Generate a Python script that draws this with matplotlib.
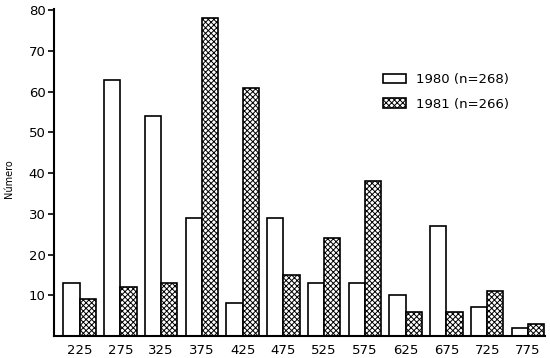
import numpy as np
import matplotlib
matplotlib.use('Agg')
import matplotlib.pyplot as plt

# size classes and counts per year
classes = ['225', '275', '325', '375', '425', '475', '525', '575', '625', '675', '725', '775']
counts_1980 = [13, 63, 54, 29, 8, 29, 13, 13, 10, 27, 7, 2]
counts_1981 = [9, 12, 13, 78, 61, 15, 24, 38, 6, 6, 11, 3]
y_ticks = [10, 20, 30, 40, 50, 60, 70, 80]

plt.rcParams['hatch.linewidth'] = 0.7

fig = plt.figure(figsize=(5.5, 3.58), dpi=100)
ax = fig.add_axes([0.098, 0.0615, 0.893, 0.913])

x = np.arange(len(classes))
w = 0.4
ax.bar(x - w / 2, counts_1980, w, color='white', edgecolor='black', linewidth=1.2,
       label='1980 (n=268)')
ax.bar(x + w / 2, counts_1981, w, color='white', edgecolor='black', linewidth=1.2,
       hatch='xxxxxx', label='1981 (n=266)')

ax.set_xlim(-0.63, 11.42)
ax.set_ylim(0, 80.3)
ax.set_xticks(x)
ax.set_xticklabels(classes)
ax.set_yticks(y_ticks)
ax.tick_params(axis='x', length=0, pad=6, labelsize=9.5)
ax.tick_params(axis='y', length=4, width=1.2, direction='out', pad=2, labelsize=9.5)

for s in ['top', 'right']:
    ax.spines[s].set_visible(False)
for s in ['left', 'bottom']:
    ax.spines[s].set_linewidth(1.5)

fig.text(0.016, 0.5, 'Número', rotation=90, va='center', ha='center', fontsize=7)

ax.legend(loc='upper left', bbox_to_anchor=(0.645, 0.84), frameon=False, fontsize=9.5,
          handlelength=1.8, handleheight=0.7, labelspacing=0.85, handletextpad=0.7)

fig.savefig('out.png', dpi=100)
